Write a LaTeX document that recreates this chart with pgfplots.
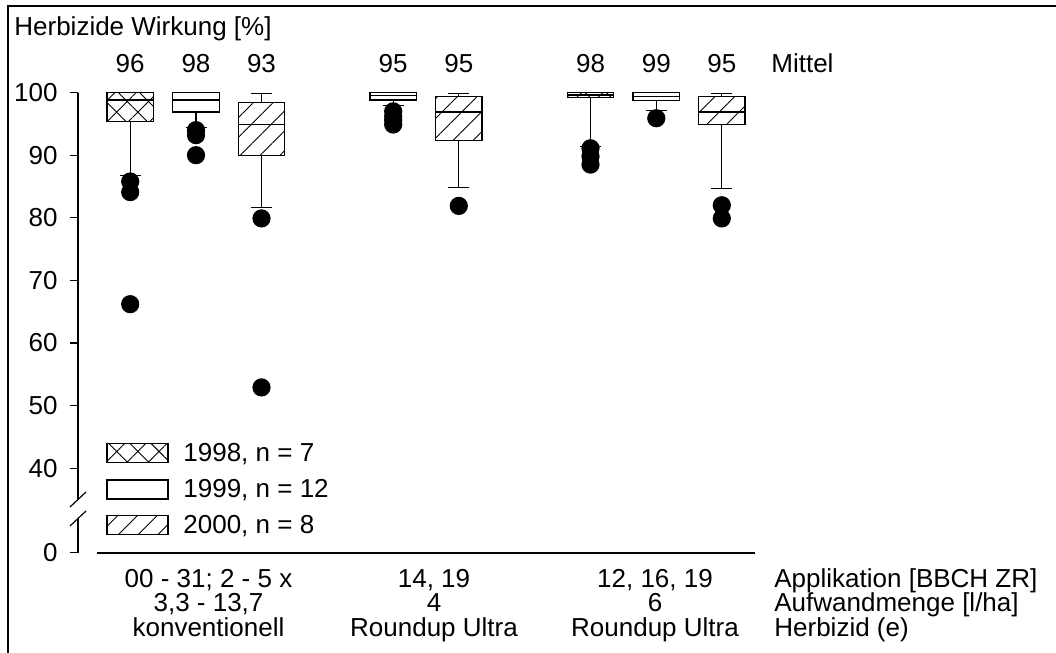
\documentclass[border=0pt]{standalone}
\usepackage{fontspec}
\setmainfont{Liberation Sans}
\usepackage{pgfplots}
\pgfplotsset{compat=1.18}
\usepgfplotslibrary{statistics}
\usetikzlibrary{patterns.meta}

\tikzset{
  hatchX/.style={pattern={Hatch[angle=45,distance=7.5pt,line width=0.45pt]}},
  hatchL/.style={pattern={Lines[angle=45,distance=7pt,line width=0.45pt]}},
  nohatch/.style={fill=white},
}
\pgfplotsset{
  bx/.style={black, line width=0.6pt, mark=*, mark size=4.25pt,
    mark options={solid, fill=black, draw=black},
    boxplot/draw direction=y,
    boxplot/box extend=46.5, boxplot/whisker extend=21,
    boxplot/every box/.style={draw=black, line width=0.6pt, #1},
    boxplot/every median/.style={draw=black, line width=0.6pt},
    boxplot/every whisker/.style={draw=black, line width=0.6pt}},
}

\begin{document}
\begin{tikzpicture}[font=\fontsize{13}{15.6}\selectfont]
\begin{axis}[
  at={(39pt,0pt)}, anchor=south west,
  scale only axis, width=489pt, height=326.5pt,
  xmin=78, xmax=1056, ymin=10.48, ymax=114.79,
  clip=false,
  axis x line=none,
  axis y line*=left,
  y axis line style={draw=none},
  xtick=\empty,
  ytick={26.5,40,50,60,70,80,90,100},
  yticklabels={0,40,50,60,70,80,90,100},
  tick align=outside,
  major tick length=4pt,
  ytick style={black, line width=0.6pt},
  yticklabel style={anchor=east, inner sep=0pt, xshift=-6pt},
  tick label style={font=\fontsize{13}{15.6}\selectfont},
  boxplot/draw direction=y,
]
% --- konventionell ---
\addplot[bx=hatchX, boxplot prepared={draw direction=y, draw position=130.2,
  lower whisker=86.8, lower quartile=95.4, median=98.8,
  upper quartile=100, upper whisker=100}]
  table[row sep=\\, y index=0] {85.8\\84.1\\66.2\\};
\addplot[bx=nohatch, boxplot prepared={draw direction=y, draw position=196,
  lower whisker=94.4, lower quartile=96.9, median=98.8,
  upper quartile=100, upper whisker=100}]
  table[row sep=\\, y index=0] {94.0\\93.2\\90.0\\};
\addplot[bx=hatchL, boxplot prepared={draw direction=y, draw position=261.5,
  lower whisker=81.7, lower quartile=89.9, median=94.9,
  upper quartile=98.4, upper whisker=99.8}]
  table[row sep=\\, y index=0] {79.9\\52.9\\};
% --- Roundup Ultra 4 l/ha ---
\addplot[bx=nohatch, boxplot prepared={draw direction=y, draw position=393.2,
  lower whisker=97.9, lower quartile=98.8, median=99.5,
  upper quartile=100, upper whisker=100}]
  table[row sep=\\, y index=0] {97.0\\96.2\\95.6\\94.9\\};
\addplot[bx=hatchL, boxplot prepared={draw direction=y, draw position=458.8,
  lower whisker=84.9, lower quartile=92.4, median=96.9,
  upper quartile=99.35, upper whisker=99.8}]
  table[row sep=\\, y index=0] {81.9\\};
% --- Roundup Ultra 6 l/ha ---
\addplot[bx=hatchX, boxplot prepared={draw direction=y, draw position=590.5,
  lower whisker=91.4, lower quartile=99.2, median=99.6,
  upper quartile=100, upper whisker=100}]
  table[row sep=\\, y index=0] {91.1\\89.8\\88.5\\};
\addplot[bx=nohatch, boxplot prepared={draw direction=y, draw position=656.3,
  lower whisker=97.1, lower quartile=98.7, median=99.4,
  upper quartile=100, upper whisker=100}]
  table[row sep=\\, y index=0] {95.9\\};
\addplot[bx=hatchL, boxplot prepared={draw direction=y, draw position=721.8,
  lower whisker=84.7, lower quartile=94.9, median=96.9,
  upper quartile=99.35, upper whisker=99.8}]
  table[row sep=\\, y index=0] {82.0\\79.9\\};
\end{axis}

\begin{scope}[x=0.5pt, y=-0.5pt, yshift=326.5pt]
  % frame
  \draw[line width=1pt] (8,653) -- (8,6) -- (1056,6);
  % y axis with break
  \draw[line width=0.8pt] (78,92.6) -- (78,499);
  \draw[line width=0.8pt] (78,519) -- (78,552.7);
  \draw[line width=0.6pt] (70,507) -- (86,492);
  \draw[line width=0.6pt] (70,526) -- (86,511);
  % x axis line
  \draw[line width=0.9pt] (97,552.7) -- (755,552.7);
  % title
  \node[anchor=base west, inner sep=0pt] at (14,36) {Herbizide Wirkung [\%]};
  % means
  \foreach \x/\m in {130.2/96, 196/98, 261.5/93, 393.2/95, 458.8/95, 590.5/98, 656.3/99, 721.8/95}
    \node[anchor=base, inner sep=0pt] at (\x,72.5) {\m};
  \node[anchor=base west, inner sep=0pt] at (771,72.5) {Mittel};
  % legend
  \draw[line width=0.6pt, hatchX] (107,443.5) rectangle (168,462.5);
  \draw[line width=0.6pt] (107,480) rectangle (168,499);
  \draw[line width=0.6pt, hatchL] (107,515.5) rectangle (168,534.5);
  \node[anchor=base west, inner sep=0pt] at (183,461.5) {1998, n = 7};
  \node[anchor=base west, inner sep=0pt] at (183,497.8) {1999, n = 12};
  \node[anchor=base west, inner sep=0pt] at (183,534) {2000, n = 8};
  % category labels
  \node[anchor=base, inner sep=0pt] at (208.5,587.5) {00 - 31; 2 - 5 x};
  \node[anchor=base, inner sep=0pt] at (208.5,612) {3,3 - 13,7};
  \node[anchor=base, inner sep=0pt] at (208.5,636.5) {konventionell};
  \node[anchor=base, inner sep=0pt] at (434,587.5) {14, 19};
  \node[anchor=base, inner sep=0pt] at (434,612) {4};
  \node[anchor=base, inner sep=0pt] at (434,636.5) {Roundup Ultra};
  \node[anchor=base, inner sep=0pt] at (655,587.5) {12, 16, 19};
  \node[anchor=base, inner sep=0pt] at (655,612) {6};
  \node[anchor=base, inner sep=0pt] at (655,636.5) {Roundup Ultra};
  \node[anchor=base west, inner sep=0pt] at (774,587.5) {Applikation [BBCH ZR]};
  \node[anchor=base west, inner sep=0pt] at (774,612) {Aufwandmenge [l/ha]};
  \node[anchor=base west, inner sep=0pt] at (774,636.5) {Herbizid (e)};
\end{scope}
\pgfresetboundingbox
\path (0,0) rectangle (528pt,326.5pt);
\end{tikzpicture}
\end{document}
